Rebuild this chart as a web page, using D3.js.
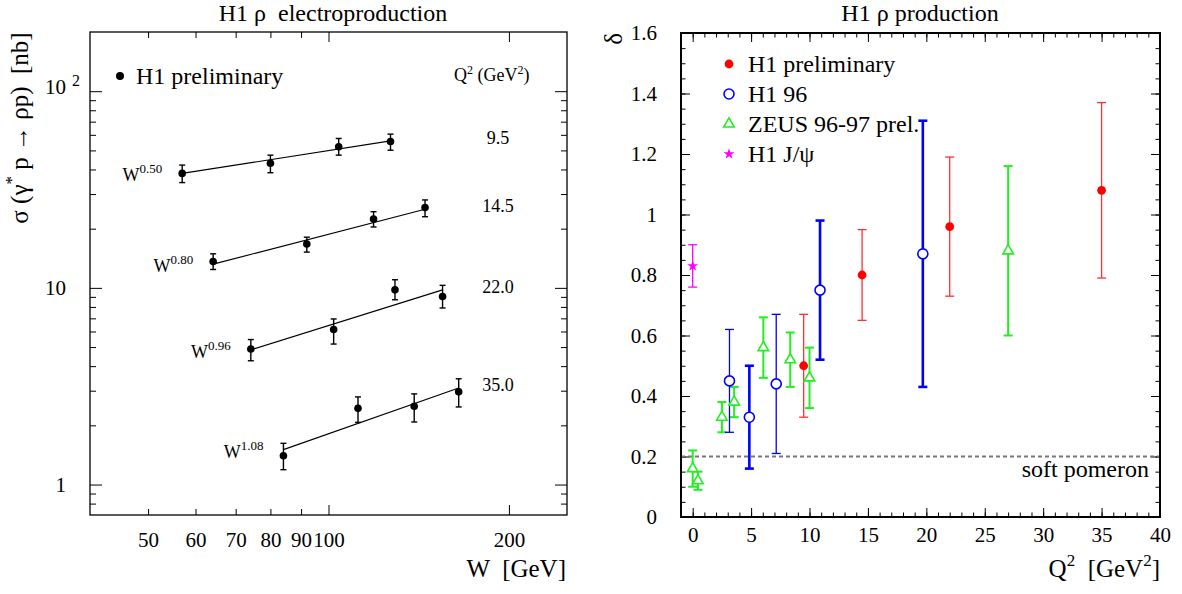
<!DOCTYPE html>
<html>
<head>
<meta charset="utf-8">
<script src="https://cdn.jsdelivr.net/npm/d3@7"></script>
<style>
  body { margin: 0; background: #fff; }
  svg { display: block; }
  text { white-space: pre; font-family: "Liberation Serif", "Times New Roman", serif; }
</style>
</head>
<body>
<svg id="chart" width="1182" height="594"></svg>
<script>
// ---------- left pad : sigma(gamma* p -> rho p) vs W, one row per Q2 bin
const q2Bins    = ['9.5', '14.5', '22.0', '35.0'];
const fitPowers = ['0.50', '0.80', '0.96', '1.08'];
const wValues = [
  [57.0, 80.0, 104.0, 126.9],
  [64.2, 92.0, 118.9, 144.9],
  [74.2, 102.0, 129.1, 155.0],
  [84.1, 112.0, 139.0, 164.9]
];
const sigmaValues = [
  [38.2, 43.0, 52.2, 55.5],
  [13.6, 16.7, 22.4, 25.6],
  [4.89, 6.14, 9.77, 9.04],
  [1.40, 2.44, 2.50, 2.96]
];
const sigmaLo = [
  [34.3, 38.5, 47.3, 50.1],
  [12.4, 15.2, 20.4, 23.0],
  [4.26, 5.18, 8.70, 7.90],
  [1.19, 2.07, 2.08, 2.48]
];
const sigmaHi = [
  [42.1, 47.3, 57.5, 60.5],
  [14.9, 18.1, 24.4, 28.0],
  [5.46, 6.95, 11.0, 10.3],
  [1.62, 2.79, 2.89, 3.45]
];
// W^delta fit lines, [W, sigma] at both ends
const fitStart = [[57.0, 38.2], [64.2, 13.2], [74.2, 4.84], [84.1, 1.505]];
const fitEnd   = [[126.9, 55.9], [144.9, 25.1], [155.0, 9.77], [164.9, 3.10]];

const wTicks      = [50, 60, 70, 80, 90, 100, 200];
const sigmaLabels = [1, 10, 100];

// ---------- right pad : delta vs Q2
const h1PrelQ2 = [9.5, 14.5, 22.0, 35.0];
const h1PrelD  = [0.50, 0.80, 0.96, 1.08];
const h1PrelLo = [0.33, 0.65, 0.73, 0.79];
const h1PrelHi = [0.67, 0.95, 1.19, 1.37];

const h196Q2 = [3.15, 4.85, 7.15, 10.9, 19.7];
const h196D  = [0.45, 0.33, 0.44, 0.75, 0.87];
const h196Lo = [0.28, 0.16, 0.21, 0.52, 0.43];
const h196Hi = [0.62, 0.50, 0.67, 0.98, 1.31];
const h196W  = [1.3, 2.6, 1.3, 2.6, 2.6];

const zeusQ2 = [0.0, 0.45, 2.5, 3.55, 6.05, 8.35, 10.0, 27.0];
const zeusD  = [0.16, 0.12, 0.33, 0.38, 0.56, 0.52, 0.46, 0.88];
const zeusLo = [0.10, 0.09, 0.28, 0.33, 0.46, 0.43, 0.36, 0.60];
const zeusHi = [0.22, 0.15, 0.38, 0.43, 0.66, 0.61, 0.56, 1.16];

const jpsiQ2 = [0.0];
const jpsiD  = [0.83];
const jpsiLo = [0.76];
const jpsiHi = [0.90];

const softPomeron = 0.2;
const q2Ticks    = [0, 5, 10, 15, 20, 25, 30, 35, 40];
const deltaTicks = [0, 0.2, 0.4, 0.6, 0.8, 1, 1.2, 1.4, 1.6];

const serif = '"Liberation Serif", "Times New Roman", serif';
const svg = d3.select('#chart');

/* ////////////////////////////  left pad  //////////////////////////// */

const xL = d3.scaleLog().domain([40, 250]).range([90, 567]);
const yL = d3.scaleLog().domain([0.7, 200]).range([515, 32]);

const left = svg.append('g').attr('id', 'electroproduction');

left.append('text')
  .attr('x', 333).attr('y', 21).attr('text-anchor', 'middle')
  .attr('font-size', 24).text('H1 ρ  electroproduction');

// minor / major ticks
const sigmaTicks = yL.ticks().filter(d => d > 0.7 && d < 200);

left.append('g').attr('transform', 'translate(0,515)')
  .call(d3.axisBottom(xL).tickValues(wTicks).tickFormat(d3.format('d'))
    .tickSizeInner(-6).tickSizeOuter(0).tickPadding(17))
  .attr('font-family', serif).attr('font-size', 21)
  .call(g => g.select('.domain').remove())
  .call(g => g.selectAll('.tick line').attr('y2', d => d % 100 === 0 ? -10 : -6));

left.append('g').attr('transform', 'translate(0,32)')
  .call(d3.axisTop(xL).tickValues(wTicks).tickFormat('').tickSizeInner(-6).tickSizeOuter(0))
  .call(g => g.select('.domain').remove())
  .call(g => g.selectAll('.tick line').attr('y2', d => d % 100 === 0 ? 10 : 6));

left.append('g').attr('transform', 'translate(90,0)')
  .call(d3.axisLeft(yL).tickValues(sigmaTicks)
    .tickFormat(d => sigmaLabels.includes(d) ? String(d) : '')
    .tickSizeInner(-6).tickSizeOuter(0).tickPadding(24))
  .attr('font-family', serif).attr('font-size', 21)
  .call(g => g.select('.domain').remove())
  .call(g => g.selectAll('.tick line').attr('x2', d => sigmaLabels.includes(d) ? 12 : 6))
  .call(g => g.selectAll('.tick text').filter(d => d === 100)
    .attr('x', -10).attr('dy', '0.1em').text('10')
    .append('tspan').attr('dx', 6).attr('dy', -8).attr('font-size', 16).text('2'));

left.append('g').attr('transform', 'translate(567,0)')
  .call(d3.axisRight(yL).tickValues(sigmaTicks).tickFormat('').tickSizeInner(-6).tickSizeOuter(0))
  .call(g => g.select('.domain').remove())
  .call(g => g.selectAll('.tick line').attr('x2', d => sigmaLabels.includes(d) ? -12 : -6));

left.append('rect')
  .attr('x', 90).attr('y', 32).attr('width', 567 - 90).attr('height', 515 - 32)
  .attr('fill', 'none').attr('stroke', '#000').attr('stroke-width', 1.3);

// axis titles
left.append('text')
  .attr('x', 566).attr('y', 577).attr('text-anchor', 'end')
  .attr('font-size', 25).text('W  [GeV]');

const yTitle = left.append('text')
  .attr('transform', 'translate(28,128) rotate(-90)')
  .attr('text-anchor', 'middle').attr('font-size', 25);
yTitle.append('tspan').text('σ (γ');
yTitle.append('tspan').attr('dy', -11).attr('font-size', 17).text('*');
yTitle.append('tspan').attr('dy', 11).text(' p → ρp)  [nb]');

// legend
left.append('circle').attr('cx', 120).attr('cy', 76).attr('r', 4).attr('fill', '#000');
left.append('text').attr('x', 136).attr('y', 84).attr('font-size', 24).text('H1 preliminary');

const qHead = left.append('text').attr('x', 454).attr('y', 81).attr('font-size', 18);
qHead.append('tspan').text('Q');
qHead.append('tspan').attr('dy', -7).attr('font-size', 12).text('2');
qHead.append('tspan').attr('dy', 7).text(' (GeV');
qHead.append('tspan').attr('dy', -7).attr('font-size', 12).text('2');
qHead.append('tspan').attr('dy', 7).text(')');

// series
const line = d3.line().x(d => xL(d[0])).y(d => yL(d[1]));

q2Bins.forEach((q, i) => {
  const g = left.append('g').attr('class', 'q2-' + q);
  const pts = wValues[i].map((w, j) => ({ w, s: sigmaValues[i][j], lo: sigmaLo[i][j], hi: sigmaHi[i][j] }));

  g.append('path')
    .attr('d', line([fitStart[i], fitEnd[i]]))
    .attr('fill', 'none').attr('stroke', '#000').attr('stroke-width', 1.1);

  const bars = g.selectAll('g.bar').data(pts).join('g').attr('class', 'bar')
    .attr('stroke', '#000').attr('stroke-width', 1.4);
  bars.append('line')
    .attr('x1', d => xL(d.w)).attr('x2', d => xL(d.w))
    .attr('y1', d => yL(d.lo)).attr('y2', d => yL(d.hi));
  bars.append('line')
    .attr('x1', d => xL(d.w) - 3).attr('x2', d => xL(d.w) + 3)
    .attr('y1', d => yL(d.lo)).attr('y2', d => yL(d.lo));
  bars.append('line')
    .attr('x1', d => xL(d.w) - 3).attr('x2', d => xL(d.w) + 3)
    .attr('y1', d => yL(d.hi)).attr('y2', d => yL(d.hi));

  g.selectAll('circle').data(pts).join('circle')
    .attr('cx', d => xL(d.w)).attr('cy', d => yL(d.s)).attr('r', 3.8).attr('fill', '#000');

  const lab = g.append('text')
    .attr('x', xL(fitStart[i][0]) - 20).attr('y', yL(fitStart[i][1]) + 8)
    .attr('text-anchor', 'end').attr('font-size', 18);
  lab.append('tspan').text('W');
  lab.append('tspan').attr('dy', -8).attr('font-size', 13).text(fitPowers[i]);

  g.append('text')
    .attr('x', 498).attr('y', yL(fitEnd[i][1]) + 3)
    .attr('text-anchor', 'middle').attr('font-size', 18).text(q);
});

/* ////////////////////////////  right pad  /////////////////////////// */

const xR = d3.scaleLinear().domain([-1, 40]).range([681, 1160]);
const yR = d3.scaleLinear().domain([0, 1.6]).range([517, 33]);

const right = svg.append('g').attr('id', 'delta');

right.append('text')
  .attr('x', 920).attr('y', 21).attr('text-anchor', 'middle')
  .attr('font-size', 24).text('H1 ρ production');

const q2Minor = d3.range(0, 41, 1);
const dMinor  = d3.range(0, 33).map(i => i * 0.05);

function rTicks(axis, pos, vals, len) {
  right.append('g').attr('transform', pos)
    .call(axis.tickValues(vals).tickFormat('').tickSizeInner(len).tickSizeOuter(0))
    .call(g => g.select('.domain').remove());
}
rTicks(d3.axisBottom(xR), 'translate(0,517)', q2Minor, -4.5);
rTicks(d3.axisTop(xR), 'translate(0,33)', q2Minor, -4.5);
rTicks(d3.axisTop(xR), 'translate(0,33)', q2Ticks, -9);
rTicks(d3.axisLeft(yR), 'translate(681,0)', dMinor, -4.5);
rTicks(d3.axisRight(yR), 'translate(1160,0)', dMinor, -4.5);
rTicks(d3.axisRight(yR), 'translate(1160,0)', deltaTicks, -9);

right.append('g').attr('transform', 'translate(0,517)')
  .call(d3.axisBottom(xR).tickValues(q2Ticks).tickFormat(d3.format('d'))
    .tickSizeInner(-9).tickSizeOuter(0).tickPadding(10))
  .attr('font-family', serif).attr('font-size', 21)
  .call(g => g.select('.domain').remove());

right.append('g').attr('transform', 'translate(681,0)')
  .call(d3.axisLeft(yR).tickValues(deltaTicks).tickFormat(d => String(+d.toFixed(1)))
    .tickSizeInner(-9).tickSizeOuter(0).tickPadding(24))
  .attr('font-family', serif).attr('font-size', 21)
  .call(g => g.select('.domain').remove());

// soft pomeron expectation
right.append('line')
  .attr('x1', 681).attr('x2', 1160)
  .attr('y1', yR(softPomeron)).attr('y2', yR(softPomeron))
  .attr('stroke', '#777').attr('stroke-width', 1.8).attr('stroke-dasharray', '4,3');
right.append('text')
  .attr('x', 1149).attr('y', 477).attr('text-anchor', 'end')
  .attr('font-size', 24).text('soft pomeron');

right.append('rect')
  .attr('x', 681).attr('y', 33).attr('width', 1160 - 681).attr('height', 517 - 33)
  .attr('fill', 'none').attr('stroke', '#000').attr('stroke-width', 2);

// axis titles
const xTitle = right.append('text')
  .attr('x', 1160).attr('y', 577).attr('text-anchor', 'end').attr('font-size', 25);
xTitle.append('tspan').text('Q');
xTitle.append('tspan').attr('dy', -11).attr('font-size', 17).text('2');
xTitle.append('tspan').attr('dy', 11).text('  [GeV');
xTitle.append('tspan').attr('dy', -11).attr('font-size', 17).text('2');
xTitle.append('tspan').attr('dy', 11).text(']');

right.append('text')
  .attr('transform', 'translate(622,33) rotate(-90)')
  .attr('text-anchor', 'end').attr('font-size', 25).text('δ');

// error bars + markers
function errorBars(q2, d, lo, hi, colour, widths) {
  const rows = q2.map((q, i) => ({ q, d: d[i], lo: lo[i], hi: hi[i], w: widths ? widths[i] : 1.3 }));
  const g = right.append('g').attr('stroke', colour);
  const b = g.selectAll('g').data(rows).join('g').attr('stroke-width', r => r.w);
  b.append('line')
    .attr('x1', r => xR(r.q)).attr('x2', r => xR(r.q))
    .attr('y1', r => yR(r.lo)).attr('y2', r => yR(r.hi));
  ['lo', 'hi'].forEach(k => b.append('line')
    .attr('x1', r => xR(r.q) - 4.5).attr('x2', r => xR(r.q) + 4.5)
    .attr('y1', r => yR(r[k])).attr('y2', r => yR(r[k])));
  return rows;
}

const red = '#ff0000', blue = '#0000ff', green = '#22ee22', magenta = '#ff00ff';

const zeusRows = errorBars(zeusQ2, zeusD, zeusLo, zeusHi, green, zeusQ2.map(() => 2));
const h196Rows = errorBars(h196Q2, h196D, h196Lo, h196Hi, blue, h196W);
const prelRows = errorBars(h1PrelQ2, h1PrelD, h1PrelLo, h1PrelHi, '#ff3030');
const jpsiRows = errorBars(jpsiQ2, jpsiD, jpsiLo, jpsiHi, magenta);

const triangle = d3.symbol(d3.symbolTriangle, 48);
const star = d3.symbol(d3.symbolStar, 38);

right.append('g').selectAll('path').data(zeusRows).join('path')
  .attr('transform', r => `translate(${xR(r.q)},${yR(r.d)})`)
  .attr('d', triangle).attr('fill', '#fff').attr('stroke', green).attr('stroke-width', 1.6);

right.append('g').selectAll('circle').data(h196Rows).join('circle')
  .attr('cx', r => xR(r.q)).attr('cy', r => yR(r.d)).attr('r', 5)
  .attr('fill', '#fff').attr('stroke', blue).attr('stroke-width', 1.6);

right.append('g').selectAll('circle').data(prelRows).join('circle')
  .attr('cx', r => xR(r.q)).attr('cy', r => yR(r.d)).attr('r', 4.4).attr('fill', red);

right.append('g').selectAll('path').data(jpsiRows).join('path')
  .attr('transform', r => `translate(${xR(r.q)},${yR(r.d)})`)
  .attr('d', star).attr('fill', magenta);

// legend
const legend = right.append('g').attr('font-size', 24);
const legendRows = ['H1 preliminary', 'H1 96', 'ZEUS 96-97 prel.', 'H1 J/ψ'];
legendRows.forEach((t, i) => {
  legend.append('text').attr('x', 748).attr('y', 72 + i * 30).text(t);
});
legend.append('circle').attr('cx', 729).attr('cy', 64).attr('r', 4.4).attr('fill', red);
legend.append('circle').attr('cx', 729).attr('cy', 94).attr('r', 5)
  .attr('fill', 'none').attr('stroke', blue).attr('stroke-width', 1.6);
legend.append('path').attr('transform', 'translate(729,124)').attr('d', triangle)
  .attr('fill', 'none').attr('stroke', green).attr('stroke-width', 1.6);
legend.append('path').attr('transform', 'translate(729,154)').attr('d', star).attr('fill', magenta);
</script>
</body>
</html>
